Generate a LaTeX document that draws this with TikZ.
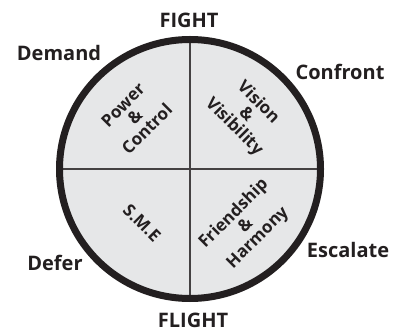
\documentclass[tikz,border=0pt]{standalone}
\usepackage{fontspec}
\setmainfont{Open Sans}
\usepackage{tikz}
\usepackage{xcolor}
\usetikzlibrary{positioning}
\definecolor{Wheel_Fill}{HTML}{E6E7E8}
\definecolor{Wheel_Ink}{HTML}{231F20}

\begin{document}
\begin{tikzpicture}[x=1pt, y=1pt,
    outer/.style={font=\fontsize{20}{22}\selectfont\bfseries, text=Wheel_Ink},
    inner/.style={font=\fontsize{17}{17}\selectfont\bfseries, text=Wheel_Ink, align=center, inner sep=0pt}]
    \useasboundingbox (0,0) rectangle (398,332);

    % Wheel
    \coordinate (c) at (190,163);
    \fill[Wheel_Fill] (c) ellipse [x radius=130.5, y radius=129.5];
    \draw[Wheel_Ink!85, line width=1.4pt] (190,36) -- (190,290);
    \draw[Wheel_Ink!85, line width=1.4pt] (62,163) -- (318,163);
    \draw[Wheel_Ink, line width=7pt] (c) ellipse [x radius=130.5, y radius=129.5];

    % Quadrants
    \node[inner, rotate=45] (pc) at (135,215) {Power\\\&\\Control};
    \node[inner, rotate=-45] (vv) at (246,217) {Vision\\\&\\Visibility};
    \node[inner, rotate=-45] (sme) at (142,109) {S.M.E};
    \node[inner, rotate=45] (fh) at (246,106) {Friendship\\\&\\Harmony};

    % Outer labels
    \node[outer] (fight) at (189,312) {FIGHT};
    \node[outer] (flight) at (193,12) {FLIGHT};
    \node[outer] (demand) at (59,279) {Demand};
    \node[outer] (confront) at (340,260) {Confront};
    \node[outer] (defer) at (55,69) {Defer};
    \node[outer] (escalate) at (348,82) {Escalate};
\end{tikzpicture}
\end{document}
